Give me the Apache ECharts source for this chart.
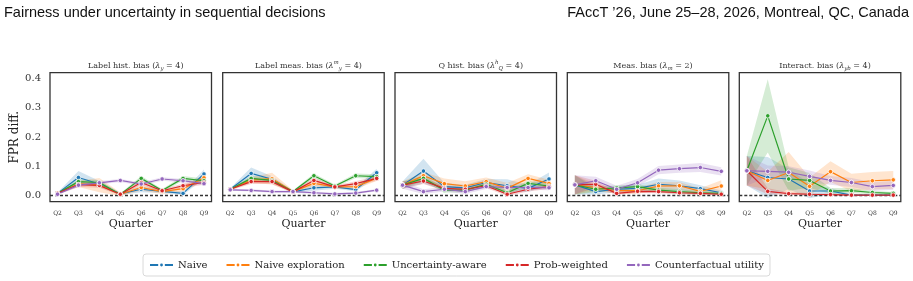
<!DOCTYPE html>
<html>
<head>
<meta charset="utf-8">
<script src="https://cdn.jsdelivr.net/npm/echarts@6/dist/echarts.min.js"></script>
<style>
  html, body { margin: 0; padding: 0; background: #fff; }
  #chart { width: 913px; height: 281px; }
</style>
</head>
<body>
<div id="chart"></div>
<script>
// categories
var quarters = ['Q2', 'Q3', 'Q4', 'Q5', 'Q6', 'Q7', 'Q8', 'Q9'];
var methods = ['Naive', 'Naive exploration', 'Uncertainty-aware', 'Prob-weighted', 'Counterfactual utility'];
var colors = ['#1f77b4', '#ff7f0e', '#2ca02c', '#d62728', '#9467bd'];
var yTicks = [0, 0.1, 0.2, 0.3, 0.4];

// mean values per panel, one row per method (same order as methods)
var labelHistMean = [
  [0.008, 0.062, 0.040, 0.006, 0.022, 0.015, 0.008, 0.074],
  [0.008, 0.040, 0.036, 0.005, 0.028, 0.014, 0.024, 0.061],
  [0.008, 0.048, 0.045, 0.004, 0.059, 0.018, 0.059, 0.051],
  [0.008, 0.038, 0.035, 0.005, 0.045, 0.017, 0.034, 0.045],
  [0.005, 0.036, 0.044, 0.052, 0.040, 0.057, 0.051, 0.041]
];
var labelHistErr = [
  [0.003, 0.022, 0.010, 0.004, 0.010, 0.006, 0.006, 0.015],
  [0.003, 0.010, 0.024, 0.006, 0.010, 0.008, 0.010, 0.010],
  [0.003, 0.008, 0.008, 0.004, 0.008, 0.005, 0.008, 0.008],
  [0.003, 0.008, 0.008, 0.004, 0.008, 0.005, 0.008, 0.008],
  [0.003, 0.006, 0.006, 0.005, 0.006, 0.006, 0.006, 0.006]
];

var labelMeasMean = [
  [0.022, 0.076, 0.056, 0.013, 0.027, 0.030, 0.021, 0.078],
  [0.022, 0.053, 0.058, 0.014, 0.042, 0.030, 0.031, 0.060],
  [0.022, 0.059, 0.052, 0.014, 0.068, 0.033, 0.068, 0.065],
  [0.022, 0.048, 0.048, 0.013, 0.052, 0.030, 0.041, 0.059],
  [0.020, 0.018, 0.014, 0.014, 0.010, 0.006, 0.009, 0.019]
];
var labelMeasErr = [
  [0.003, 0.020, 0.010, 0.004, 0.010, 0.006, 0.006, 0.014],
  [0.003, 0.010, 0.020, 0.005, 0.010, 0.006, 0.008, 0.010],
  [0.003, 0.008, 0.008, 0.004, 0.008, 0.005, 0.008, 0.008],
  [0.003, 0.008, 0.008, 0.004, 0.008, 0.005, 0.008, 0.008],
  [0.003, 0.004, 0.004, 0.004, 0.004, 0.004, 0.004, 0.004]
];

var qHistMean = [
  [0.036, 0.084, 0.031, 0.027, 0.045, 0.034, 0.025, 0.057],
  [0.036, 0.068, 0.041, 0.033, 0.048, 0.025, 0.059, 0.042],
  [0.036, 0.059, 0.019, 0.019, 0.039, 0.010, 0.042, 0.033],
  [0.036, 0.050, 0.025, 0.022, 0.034, 0.005, 0.022, 0.031],
  [0.036, 0.014, 0.022, 0.014, 0.031, 0.028, 0.028, 0.027]
];
var qHistErr = [
  [0.012, 0.042, 0.012, 0.010, 0.012, 0.022, 0.012, 0.022],
  [0.012, 0.012, 0.018, 0.016, 0.014, 0.018, 0.014, 0.012],
  [0.012, 0.010, 0.008, 0.008, 0.008, 0.008, 0.008, 0.008],
  [0.012, 0.010, 0.008, 0.008, 0.008, 0.006, 0.008, 0.008],
  [0.012, 0.008, 0.008, 0.008, 0.008, 0.008, 0.008, 0.008]
];

var measMean = [
  [0.037, 0.014, 0.022, 0.025, 0.039, 0.034, 0.024, 0.010],
  [0.037, 0.028, 0.017, 0.017, 0.033, 0.034, 0.015, 0.033],
  [0.037, 0.022, 0.027, 0.031, 0.019, 0.014, 0.010, 0.008],
  [0.037, 0.039, 0.008, 0.015, 0.014, 0.010, 0.008, 0.005],
  [0.037, 0.051, 0.022, 0.044, 0.087, 0.092, 0.096, 0.083]
];
var measErr = [
  [0.033, 0.010, 0.010, 0.012, 0.020, 0.018, 0.012, 0.008],
  [0.033, 0.012, 0.010, 0.010, 0.014, 0.012, 0.010, 0.020],
  [0.033, 0.010, 0.008, 0.008, 0.008, 0.008, 0.006, 0.005],
  [0.033, 0.012, 0.005, 0.006, 0.006, 0.005, 0.005, 0.004],
  [0.033, 0.014, 0.012, 0.013, 0.014, 0.014, 0.015, 0.014]
];

var interactMean = [
  [0.085, 0.062, 0.057, 0.016, 0.016, 0.002, 0.002, 0.002],
  [0.085, 0.052, 0.079, 0.032, 0.082, 0.045, 0.051, 0.054],
  [0.085, 0.272, 0.057, 0.052, 0.016, 0.017, 0.011, 0.008],
  [0.085, 0.015, 0.007, 0.005, 0.004, 0.002, 0.002, 0.002],
  [0.085, 0.083, 0.080, 0.066, 0.052, 0.045, 0.031, 0.035]
];
var interactErr = [
  [0.050, 0.070, 0.035, 0.025, 0.010, 0.003, 0.003, 0.003],
  [0.050, 0.030, 0.070, 0.030, 0.035, 0.030, 0.030, 0.030],
  [0.050, 0.125, 0.040, 0.025, 0.010, 0.008, 0.006, 0.005],
  [0.050, 0.010, 0.005, 0.004, 0.003, 0.002, 0.002, 0.002],
  [0.050, 0.020, 0.020, 0.020, 0.015, 0.015, 0.015, 0.015]
];

var panels = [
  { mean: labelHistMean, err: labelHistErr, title: 'Label hist. bias ({it|λ}{sub|y} = 4)' },
  { mean: labelMeasMean, err: labelMeasErr, title: 'Label meas. bias ({it|λ}{sup|m}{sub|y} = 4)' },
  { mean: qHistMean, err: qHistErr, title: 'Q hist. bias ({it|λ}{sup|h}{sub|Q} = 4)' },
  { mean: measMean, err: measErr, title: 'Meas. bias ({it|λ}{sub|m} = 2)' },
  { mean: interactMean, err: interactErr, title: 'Interact. bias ({it|λ}{sub|yb} = 4)' }
];

var serif = '"DejaVu Serif", serif';
var gridLefts = [50, 222.7, 395, 567.3, 739.3];
var gridW = 161.5;

function alpha(hex, a) {
  var n = parseInt(hex.slice(1), 16);
  return 'rgba(' + (n >> 16) + ',' + ((n >> 8) & 255) + ',' + (n & 255) + ',' + a + ')';
}

// shaded band drawn as one polygon through the axis scale
function bandRender(lo, hi, fill) {
  return function (params, api) {
    if (params.dataIndex !== 0) return null;
    var pts = [];
    for (var i = 0; i < lo.length; i++) pts.push(api.coord([i, hi[i]]));
    for (var j = lo.length - 1; j >= 0; j--) pts.push(api.coord([j, lo[j]]));
    return { type: 'polygon', shape: { points: pts }, style: { fill: fill } };
  };
}

var grids = [], xAxes = [], yAxes = [], series = [], titles = [];

panels.forEach(function (p, k) {
  grids.push({ left: gridLefts[k], top: 72.7, width: gridW, height: 129, show: true,
               borderColor: '#333', borderWidth: 1.3, backgroundColor: 'transparent' });
  titles.push({ text: p.title, left: gridLefts[k] + gridW / 2, top: 55, textAlign: 'center',
    textStyle: { fontFamily: serif, fontSize: 8, fontWeight: 'normal', color: '#333',
      rich: {
        it: { fontFamily: serif, fontSize: 8, fontStyle: 'italic', color: '#333' },
        sub: { fontFamily: serif, fontSize: 5.5, fontStyle: 'italic', color: '#333', verticalAlign: 'bottom', lineHeight: 12, padding: [4, 0, 0, 0] },
        sup: { fontFamily: serif, fontSize: 5.5, fontStyle: 'italic', color: '#333', verticalAlign: 'top', lineHeight: 12, padding: [0, 0, 4, 0] }
      } } });
  xAxes.push({ gridIndex: k, type: 'value', min: -0.36, max: 7.36,
    name: 'Quarter', nameLocation: 'middle', nameGap: 17,
    nameTextStyle: { fontFamily: serif, fontSize: 11, color: '#222' },
    axisLine: { show: false }, axisTick: { show: false }, splitLine: { show: false },
    axisLabel: { customValues: [0, 1, 2, 3, 4, 5, 6, 7], margin: 9, fontFamily: serif, fontSize: 6, color: '#333',
      formatter: function (v) { return quarters[Math.round(v)]; } } });
  yAxes.push({ gridIndex: k, type: 'value', min: -0.0204, max: 0.419,
    name: k === 0 ? 'FPR diff.' : '', nameLocation: 'middle', nameGap: 28, nameRotate: 90,
    nameTextStyle: { fontFamily: serif, fontSize: 12, color: '#222' },
    axisLine: { show: false }, axisTick: { show: false }, splitLine: { show: false },
    axisLabel: { show: k === 0, customValues: yTicks, margin: 9, fontFamily: serif, fontSize: 10, color: '#333',
      formatter: function (v) { return v.toFixed(1); } } });

  p.mean.forEach(function (m, s) {
    var lo = m.map(function (v, i) { return v - p.err[s][i]; });
    var hi = m.map(function (v, i) { return v + p.err[s][i]; });
    series.push({ type: 'custom', xAxisIndex: k, yAxisIndex: k, silent: true, z: 1, clip: true,
      renderItem: bandRender(lo, hi, alpha(colors[s], 0.2)),
      data: m.map(function (v, i) { return [i, lo[i], hi[i]]; }), encode: { x: 0, y: [1, 2] } });
  });
  p.mean.forEach(function (m, s) {
    var line = { type: 'line', name: methods[s], xAxisIndex: k, yAxisIndex: k, z: 3,
      data: m.map(function (v, i) { return [i, v]; }),
      symbol: 'circle', symbolSize: 4.5, showSymbol: true,
      lineStyle: { color: colors[s], width: 1.2 },
      itemStyle: { color: colors[s], borderColor: '#fff', borderWidth: 0.8 } };
    if (s === 0) {
      line.markLine = { silent: true, symbol: 'none', label: { show: false }, z: 2,
        lineStyle: { type: [3, 2], color: '#333', width: 1.3 }, data: [{ yAxis: 0 }] };
    }
    series.push(line);
  });
});

var chart = echarts.init(document.getElementById('chart'), null, { renderer: 'canvas' });
chart.setOption({
  animation: false,
  color: colors,
  title: titles,
  grid: grids,
  xAxis: xAxes,
  yAxis: yAxes,
  legend: {
    data: methods, left: 'center', top: 254, itemWidth: 23, itemHeight: 6, itemGap: 18,
    padding: [5, 6], borderColor: '#d9d9d9', borderWidth: 1, borderRadius: 3,
    textStyle: { fontFamily: serif, fontSize: 10, color: '#222', lineHeight: 12 }
  },
  graphic: [
    { type: 'text', left: 4, top: 5, style: { text: 'Fairness under uncertainty in sequential decisions',
      font: '14.5px "Liberation Sans Narrow", "Liberation Sans", sans-serif', fill: '#111' } },
    { type: 'text', right: 4, top: 5, style: { text: 'FAccT \u201926, June 25\u201328, 2026, Montreal, QC, Canada',
      font: '14.5px "Liberation Sans Narrow", "Liberation Sans", sans-serif', fill: '#111' } }
  ],
  series: series
});
</script>
</body>
</html>
